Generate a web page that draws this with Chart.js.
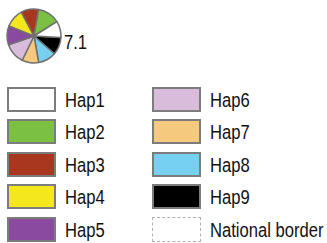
<!DOCTYPE html>
<html>
<head>
<meta charset="utf-8">
<script src="https://cdn.jsdelivr.net/npm/chart.js@4"></script>
<style>
  body { margin: 0; background: #fff; width: 327px; height: 243px; overflow: hidden; position: relative; font-family: "Liberation Sans", Arial, sans-serif; }
  #pieWrap { position: absolute; left: 4px; top: 6px; width: 60px; height: 60px; }
  #pieLabel { position: absolute; left: 64px; top: 30px; font-size: 20.5px; color: #111; transform: scaleX(0.81); transform-origin: left top; }
  .item { position: absolute; height: 25px; }
  .box { position: absolute; left: 0; top: 0; width: 45px; height: 21px; border: 2px solid #7c7c7c; }
  .txt { position: absolute; top: 0px; font-size: 20.5px; line-height: 25px; color: #111; white-space: nowrap; transform: scaleX(0.81); transform-origin: left top; }
</style>
</head>
<body>
<div id="pieWrap"><canvas id="pie" width="60" height="60"></canvas></div>
<div id="pieLabel">7.1</div>
<div id="legend"></div>
<script>
// haplotypes, legend order
let hapLabels = ['Hap1','Hap2','Hap3','Hap4','Hap5','Hap6','Hap7','Hap8','Hap9'];
let hapColors = ['#ffffff','#7bc043','#a9371f','#f4e81c','#8a4a9e','#d9bbdb','#f6ca7e','#76d0ef','#000000'];
// slice sizes (degrees)
let hapValues = [35, 48, 38, 40, 41, 45, 36, 39, 38];
let siteLabel = '7.1';
let borderLabel = 'National border';

document.getElementById('pieLabel').textContent = siteLabel;

// the pie goes Hap1..Hap9 counter-clockwise, chart.js draws clockwise
let pieLabels = hapLabels.slice().reverse();
let pieData = hapValues.slice().reverse();
let pieColors = hapColors.slice().reverse();

new Chart(document.getElementById('pie'), {
  type: 'pie',
  data: {
    labels: pieLabels,
    datasets: [{
      data: pieData,
      backgroundColor: pieColors,
      borderColor: '#707070',
      borderWidth: 1.5,
      hoverOffset: 0
    }]
  },
  options: {
    responsive: false,
    animation: false,
    rotation: 93,
    radius: 27,
    layout: { padding: 0 },
    plugins: { legend: { display: false }, tooltip: { enabled: false } }
  }
});

// legend: two columns, filled top to bottom
let legend = document.getElementById('legend');
let entries = hapLabels.map((l, i) => ({ text: l, color: hapColors[i], dashed: false }));
entries.push({ text: borderLabel, color: '#ffffff', dashed: true });

entries.forEach(function(e, i) {
  let col = Math.floor(i / 5);
  let row = i % 5;
  let item = document.createElement('div');
  item.className = 'item';
  item.style.left = (col == 0 ? 7 : 152) + 'px';
  item.style.top = (87 + row * 32.4) + 'px';
  let box = document.createElement('div');
  box.className = 'box';
  box.style.background = e.color;
  if (e.dashed) { box.style.border = '1px dashed #b0b0b0'; box.style.width = '47px'; box.style.height = '23px'; }
  let txt = document.createElement('div');
  txt.className = 'txt';
  txt.style.left = '58px';
  txt.textContent = e.text;
  item.appendChild(box);
  item.appendChild(txt);
  legend.appendChild(item);
});
</script>
</body>
</html>
